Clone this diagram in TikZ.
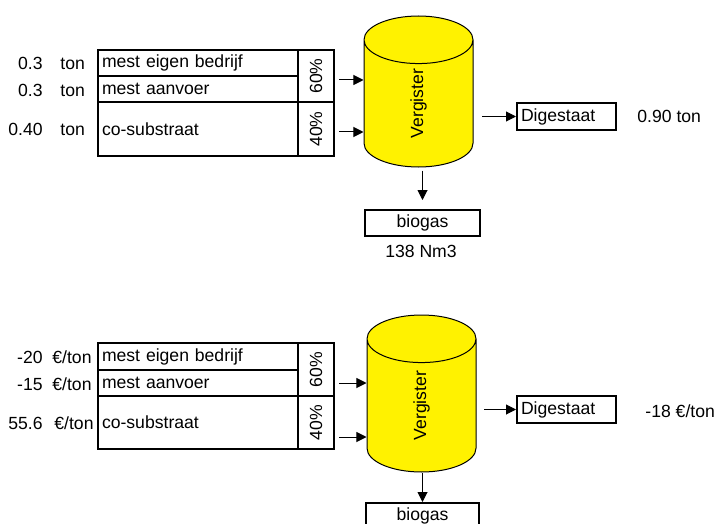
\documentclass[tikz,border=0pt]{standalone}
\usepackage{fontspec}
\setmainfont{Liberation Sans}
\usetikzlibrary{arrows.meta}
\usetikzlibrary{calc}
\usetikzlibrary{shapes.geometric}
\usepackage{xcolor}

\tikzset{
  cell/.style={draw, line width=1pt, anchor=north west, minimum width=100pt,
    text width=96pt, inner xsep=2pt, inner ysep=0pt, align=left},
  pct/.style={draw, line width=1pt, anchor=north west, minimum width=18pt, inner sep=0pt},
  tank/.style={cylinder, shape border rotate=90, draw, line width=0.5pt, fill=yellow,
    minimum width=54.5pt, aspect=2.9, inner sep=0pt, anchor=shape center},
  outbox/.style={draw, line width=1pt, minimum height=13pt, inner sep=0pt},
  arr/.style={line width=0.5pt, -{Triangle[length=5pt,width=5pt]}},
  val/.style={inner sep=0pt}
}

\begin{document}
\begin{tikzpicture}[x=0.5pt,y=-0.5pt,font=\fontsize{8.8pt}{10pt}\selectfont]
      \useasboundingbox (0,0) rectangle (717,524);

      % Mass balance: table
      \node[cell, minimum height=13pt] (eigenA) at (97,49) {mest eigen bedrijf};
      \node[cell, minimum height=13pt] (aanvoerA) at (97,75) {mest aanvoer};
      \node[cell, minimum height=27pt] (coA) at (97,101) {co-substraat};
      \node[pct, minimum height=26pt] (p60A) at (297,49) {\rotatebox{90}{60\%}};
      \node[pct, minimum height=27pt] (p40A) at (297,101) {\rotatebox{90}{40\%}};

      % Mass balance: amounts
      \node[val, anchor=base east] (qA1) at (43,70) {0.3};
      \node[val, anchor=base west] (uA1) at (60,70) {ton};
      \node[val, anchor=base east] (qA2) at (43,97) {0.3};
      \node[val, anchor=base west] (uA2) at (60,97) {ton};
      \node[val, anchor=base east] (qA3) at (43,135) {0.40};
      \node[val, anchor=base west] (uA3) at (60,135) {ton};

      % Mass balance: digester and products
      \node[tank, minimum height=75.5pt] (vergA) at (418.5,91.5) {\rotatebox{90}{Vergister}};
      \node[outbox, anchor=north west, minimum width=49.5pt, text width=45.5pt,
        inner xsep=2pt, align=left, minimum height=13.5pt] (digA) at (516,102) {Digestaat};
      \node[outbox, anchor=north west, minimum width=57.5pt] (bioA) at (364,209) {biogas};
      \node[val, anchor=base west] (rA1) at (637,123) {0.90 ton};
      \node[val, anchor=base] (rA2) at (421,257) {138 Nm3};

      \draw[arr] ($(p60A.east)+(4,4)$) -- ($(p60A.east -| vergA.west)+(0,4)$);
      \draw[arr] ($(p40A.east)+(4,3)$) -- ($(p40A.east -| vergA.west)+(0,3)$);
      \draw[arr] ($(digA.west)+(-34,0)$) -- (digA.west);
      \draw[arr] ($(bioA.north |- vergA.south)+(0,3)$) -- ($(bioA.north)+(0,-9)$);

      % Costs: table
      \node[cell, minimum height=13.5pt] (eigenB) at (97,342) {mest eigen bedrijf};
      \node[cell, minimum height=13pt] (aanvoerB) at (97,369) {mest aanvoer};
      \node[cell, minimum height=26.5pt] (coB) at (97,395) {co-substraat};
      \node[pct, minimum height=26.5pt] (p60B) at (297,342) {\rotatebox{90}{60\%}};
      \node[pct, minimum height=26.5pt] (p40B) at (297,395) {\rotatebox{90}{40\%}};

      % Costs: prices
      \node[val, anchor=base east] (qB1) at (43,363) {-20};
      \node[val, anchor=base west] (uB1) at (52,363) {€/ton};
      \node[val, anchor=base east] (qB2) at (43,390) {-15};
      \node[val, anchor=base west] (uB2) at (52,390) {€/ton};
      \node[val, anchor=base east] (qB3) at (43,429) {55.6};
      \node[val, anchor=base west] (uB3) at (54,429) {€/ton};

      % Costs: digester and products
      \node[tank, minimum height=78.5pt] (vergB) at (421.5,393.5) {\rotatebox{90}{Vergister}};
      \node[outbox, anchor=north west, minimum width=49.5pt, text width=45.5pt,
        inner xsep=2pt, align=left, minimum height=13.5pt] (digB) at (516,395) {Digestaat};
      \node[outbox, anchor=north west, minimum width=56.5pt] (bioB) at (365,502) {biogas};
      \node[val, anchor=base west] (rB1) at (645,417) {-18 €/ton};

      \draw[arr] ($(p60B.east)+(4,13.5)$) -- ($(p60B.east -| vergB.west)+(0,13.5)$);
      \draw[arr] ($(p40B.east)+(4,14.5)$) -- ($(p40B.east -| vergB.west)+(0,14.5)$);
      \draw[arr] ($(digB.west)+(-32,0)$) -- (digB.west);
      \draw[arr] ($(bioB.north |- vergB.south)+(0,0)$) -- (bioB.north);
  \end{tikzpicture}
\end{document}
